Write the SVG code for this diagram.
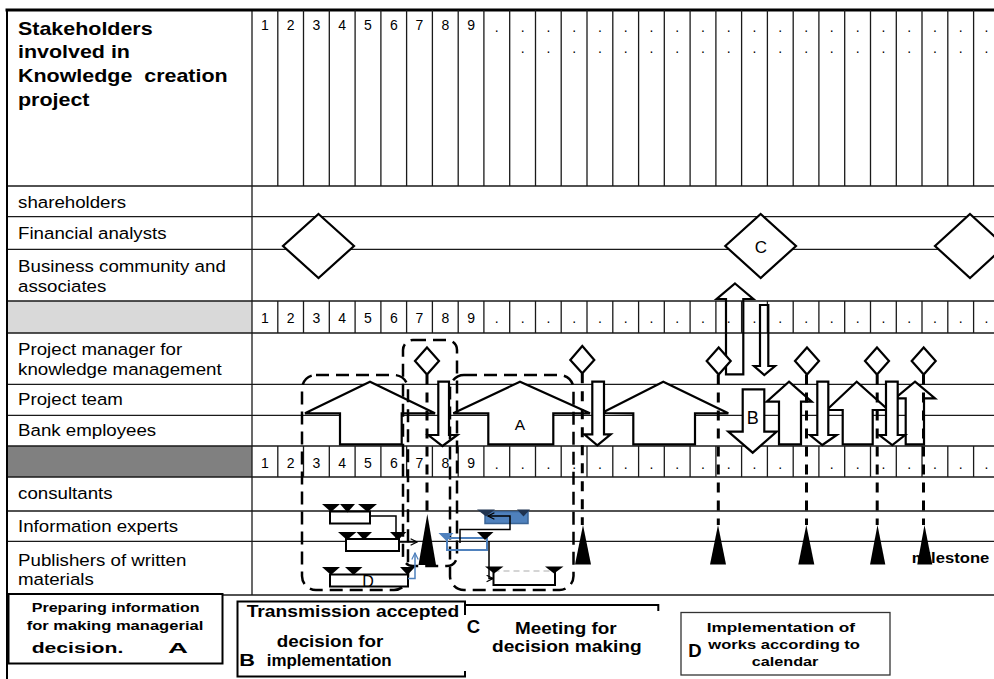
<svg xmlns="http://www.w3.org/2000/svg" xmlns:xlink="http://www.w3.org/1999/xlink" width="994" height="679" viewBox="0 0 994 679">
<defs>
<style>
.grid{stroke:#1a1a1a;stroke-width:1.3;fill:none}
.lbl{font-family:"Liberation Sans",Arial,sans-serif;font-size:17px;fill:#000}
.num{font-family:"Liberation Sans",Arial,sans-serif;font-size:14px;fill:#000;text-anchor:middle}
.ttl{font-family:"Liberation Sans",Arial,sans-serif;font-size:18.5px;font-weight:bold;fill:#000}
.shape{fill:#fff;stroke:#000;stroke-width:2.2;stroke-linejoin:miter}
.hollow{fill:none;stroke:#000;stroke-width:2.2}
.grp{fill:none;stroke:#000;stroke-width:2.5;stroke-dasharray:13 7}
.ms{stroke:#000;stroke-width:3;stroke-dasharray:10 8;fill:none}
.tri{fill:#000}
.bar{fill:#fff;stroke:#000;stroke-width:2}
.leg{fill:#fff;stroke:#000;stroke-width:2}
.lt{font-family:"Liberation Sans",Arial,sans-serif;font-weight:bold;fill:#000}
.in{font-family:"Liberation Sans",Arial,sans-serif;fill:#000;text-anchor:middle}
.con{fill:none;stroke:#000;stroke-width:1.5}
.bcon{fill:none;stroke:#4f81bd;stroke-width:1.5}
</style>
<path id="col" d="M0 10V186M0 301V333M0 446V477"/>
<marker id="chev" viewBox="0 0 10 10" refX="9" refY="5" markerWidth="8" markerHeight="8" markerUnits="userSpaceOnUse" orient="auto">
<path d="M1 1L9 5L1 9" fill="none" stroke="#000" stroke-width="1.5"/>
</marker>
<marker id="bchev" viewBox="0 0 10 10" refX="9" refY="5" markerWidth="8" markerHeight="8" markerUnits="userSpaceOnUse" orient="auto">
<path d="M1 1L9 5L1 9" fill="none" stroke="#4f81bd" stroke-width="1.5"/>
</marker>
</defs>
<rect width="994" height="679" fill="#fff"/>

<g id="table">
<rect x="7" y="301" width="245" height="32" fill="#d9d9d9"/>
<rect x="7" y="446" width="245" height="31" fill="#808080"/>
<path class="grid" d="M7 186H994M7 216.7H994M7 249.3H994M7 301H994M7 333H994M7 384.3H994M7 415.3H994M7 446H994M7 477H994M7 511H994M7 541.3H994M7 595H994M252 10V595"/>
<path d="M7 10V679" stroke="#000" stroke-width="2"/>
<path d="M5.5 10H994" stroke="#000" stroke-width="3"/>
<g class="grid">
<use xlink:href="#col" x="277.8"/><use xlink:href="#col" x="303.5"/><use xlink:href="#col" x="329.3"/><use xlink:href="#col" x="355.1"/>
<use xlink:href="#col" x="380.9"/><use xlink:href="#col" x="406.6"/><use xlink:href="#col" x="432.4"/><use xlink:href="#col" x="458.2"/>
<use xlink:href="#col" x="483.9"/><use xlink:href="#col" x="509.7"/><use xlink:href="#col" x="535.5"/><use xlink:href="#col" x="561.2"/>
<use xlink:href="#col" x="587.0"/><use xlink:href="#col" x="612.8"/><use xlink:href="#col" x="638.6"/><use xlink:href="#col" x="664.3"/>
<use xlink:href="#col" x="690.1"/><use xlink:href="#col" x="715.9"/><use xlink:href="#col" x="741.6"/><use xlink:href="#col" x="767.4"/>
<use xlink:href="#col" x="793.2"/><use xlink:href="#col" x="818.9"/><use xlink:href="#col" x="844.7"/><use xlink:href="#col" x="870.5"/>
<use xlink:href="#col" x="896.3"/><use xlink:href="#col" x="922.0"/><use xlink:href="#col" x="947.8"/><use xlink:href="#col" x="973.6"/>
</g>
<g class="num">
<text x="264.9 290.7 316.4 342.2 368.0 393.8 419.5 445.3 471.1" y="30">123456789</text>
<text x="496.8 522.6 548.4 574.1 599.9 625.7 651.5 677.2 703.0 728.8 754.5 780.3 806.1 831.8 857.6 883.4 909.2 934.9 960.7 986.5" y="31.5">....................</text>
<text x="522.6 548.4 574.1 599.9 625.7 651.5 677.2 703.0 728.8 754.5 780.3 806.1 831.8 857.6 883.4 909.2 934.9 960.7 986.5" y="52.5">...................</text>
<text x="264.9 290.7 316.4 342.2 368.0 393.8 419.5 445.3 471.1" y="322.5">123456789</text>
<text x="496.8 522.6 548.4 574.1 599.9 625.7 651.5 677.2 703.0 728.8 754.5 780.3 806.1 831.8 857.6 883.4 909.2 934.9 960.7 986.5" y="323">....................</text>
<text x="264.9 290.7 316.4 342.2 368.0 393.8 419.5 445.3 471.1" y="468">123456789</text>
<text x="496.8 522.6 548.4 574.1 599.9 625.7 651.5 677.2 703.0 728.8 754.5 780.3 806.1 831.8 857.6 883.4 909.2 934.9 960.7 986.5" y="468.5">....................</text>
</g>
<g transform="scale(1.16 1)" class="ttl">
<text x="15.5" y="35">Stakeholders</text>
<text x="15.5" y="58.5">involved in</text>
<text x="15.5" y="82.5">Knowledge&#160; creation</text>
<text x="15.5" y="106">project</text>
</g>
<g transform="scale(1.1 1)" class="lbl">
<text x="16.4" y="208.3">shareholders</text>
<text x="16.4" y="239.3">Financial analysts</text>
<text x="16.4" y="271.7">Business community and</text>
<text x="16.4" y="291.7">associates</text>
<text x="16.4" y="355">Project manager for</text>
<text x="16.4" y="375">knowledge management</text>
<text x="16.4" y="405.5">Project team</text>
<text x="16.4" y="436.5">Bank employees</text>
<text x="16.4" y="499.5">consultants</text>
<text x="16.4" y="532">Information experts</text>
<text x="16.4" y="566">Publishers of written</text>
<text x="16.4" y="585">materials</text>
</g>
</g>

<g id="decision-diamonds">
<polygon class="shape" points="318.5,214 354,246 318.5,278 283,246"/>
<g id="diamond-C">
<polygon class="shape" points="760.7,214 796,246 760.7,278 725.3,246"/>
<text class="in" x="761" y="252.5" font-size="17">C</text>
</g>
<polygon class="shape" points="970,214 1005,246 970,278 935,246"/>
</g>

<g id="transfer-arrows">
<polygon class="hollow" points="735,283.5 753.3,299 743.3,299 743.3,374.3 726,374.3 726,299 716.7,299"/>
<polygon class="hollow" points="760,305 768.3,305 768.3,366 775,366 764.3,375 754,366 760,366"/>
</g>

<g id="houses">
<polygon class="shape" points="305,413.3 370,381.7 435,413.3 401.7,413.3 401.7,444.3 340,444.3 340,413.3"/>
<g id="house-A">
<polygon class="shape" points="453.3,413.3 520,381.7 590,413.3 553.3,413.3 553.3,444.3 488.3,444.3 488.3,413.3"/>
<text class="in" x="520" y="429.5" font-size="15.5">A</text>
</g>
<polygon class="shape" points="601.7,413 663.3,381.7 728.3,413.3 695,413.3 695,444.3 633.3,444.3 633.3,413.3"/>
<polygon class="shape" points="826.7,410 856.7,381.7 888.3,410 872.7,410 872.7,444.3 842.7,444.3 842.7,410"/>
</g>

<g id="block-arrows">
<polygon class="shape" points="442.5,446 457.3,435 449,435 449,381.7 438.3,381.7 438.3,435 428.3,435"/>
<polygon class="shape" points="597.3,445.3 610.7,434.3 604,434.3 604,381.7 592.3,381.7 592.3,434.3 584.3,434.3"/>
<polygon class="shape" points="789,381.7 811.7,401.7 801,401.7 801,444.3 779,444.3 779,401.7 766.7,401.7"/>
<g id="arrow-B">
<polygon class="shape" points="742.7,389.3 764.3,389.3 764.3,431.7 776.7,431.7 752.7,452.7 728.3,431.7 742.7,431.7"/>
<text class="in" x="752.7" y="423.5" font-size="18">B</text>
</g>
<polygon class="shape" points="817.3,381.7 828.3,381.7 828.3,435 836.7,435 822.3,445 810,435 817.3,435"/>
<polygon class="shape" points="915,381.7 935,398.3 924,398.3 924,444.3 905.7,444.3 905.7,398.3 895,398.3"/>
<polygon class="shape" points="886,381.7 897.7,381.7 897.7,435 905,435 892.3,445 879.3,435 886,435"/>
</g>

<g id="pm-diamonds">
<polygon class="shape" points="427,347.5 439,361 427,374.5 415,361"/>
<polygon class="shape" points="582.3,346 594.3,360 582.3,373.3 570.3,360"/>
<polygon class="shape" points="718.7,347.5 730.7,361 718.7,374.5 706.7,361"/>
<polygon class="shape" points="807,347.5 819,361 807,374.5 795,361"/>
<polygon class="shape" points="877,347.5 889,361 877,374.5 865,361"/>
<polygon class="shape" points="923.7,347.5 935.7,361 923.7,374.5 911.7,361"/>
</g>

<g id="phase-groups">
<rect class="grp" x="302" y="375" width="106" height="215" rx="14"/>
<rect class="grp" x="403" y="340" width="54" height="226" rx="10"/>
<rect class="grp" x="450" y="375" width="123.5" height="215" rx="14"/>
</g>

<g id="tasks">
<g id="bar1">
<rect class="bar" x="330" y="511.5" width="40" height="12"/>
<polygon class="tri" points="322,504 340,504 331,512"/>
<polygon class="tri" points="340,504 355,504 347.5,512.5"/>
<polygon class="tri" points="358,504 377,504 367.5,512"/>
</g>
<g id="bar2">
<rect class="bar" x="346" y="539" width="53" height="12"/>
<polygon class="tri" points="338,532 356.5,532 347,540"/>
<polygon class="tri" points="356.5,532 372,532 364,540"/>
<polygon class="tri" points="390,532 406.5,532 398,540"/>
</g>
<g id="bar3">
<rect class="bar" x="330" y="574.5" width="78" height="12"/>
<text class="in" x="368" y="586.5" font-size="16">D</text>
<polygon class="tri" points="322,567 340,567 331,575"/>
<polygon class="tri" points="345,567 362.5,567 353.5,575"/>
<polygon class="tri" points="400,567 415,567 407.5,575"/>
</g>
<g id="bar-blue1">
<rect x="485" y="511.5" width="43" height="12" fill="#4f81bd" stroke="#3a6496" stroke-width="1.5"/>
<polygon points="477,509.5 495,509.5 486,516.5" fill="#1f3350"/>
<polygon points="517,509.5 530,509.5 523.5,516.5" fill="#1f3350"/>
</g>
<g id="bar-blue2">
<rect x="447" y="538" width="40" height="12" fill="none" stroke="#4f81bd" stroke-width="2"/>
<polygon points="438.5,533 453.5,533 446,540.5" fill="#4f81bd"/>
<polygon points="477,532 493.5,532 485,540" fill="#000"/>
</g>
<g id="bar4">
<path d="M493.5 571V585H555V571" fill="#fff" stroke="#000" stroke-width="2"/>
<path d="M493.5 571H555" stroke="#c8c8c8" stroke-width="1.5" stroke-dasharray="6 4"/>
<polygon class="tri" points="485,566.5 503.5,566.5 494,573.5"/>
<polygon class="tri" points="545,566.5 563.5,566.5 554,573.5"/>
</g>
</g>

<text id="milestone-label" class="lt" x="911.7" y="562.7" font-size="15" textLength="77.6" lengthAdjust="spacingAndGlyphs">milestone</text>

<g id="connectors">
<path class="ms" d="M427 374.5V516M582.3 373.3V525M718.3 374.5V525M806.5 374.5V525M877.2 374.5V525M923.5 374.5V525"/>
<path class="con" d="M370 516H396V540"/>
<path class="con" d="M399 542H417" marker-end="url(#chev)"/>
<path class="bcon" d="M408 578.5H415V553" marker-end="url(#bchev)"/>
<path class="con" d="M460 543V529.5H510V516H488" marker-end="url(#chev)"/>
<path class="con" d="M489 541V578.5H493" marker-end="url(#chev)"/>
</g>

<g id="milestones">
<polygon class="tri" points="427.3,514 436,565 418.5,565"/>
<polygon class="tri" points="583,525 591,564.5 575,564.5"/>
<polygon class="tri" points="718,525 726,564.5 710,564.5"/>
<polygon class="tri" points="806.3,525 814.3,564.5 798.3,564.5"/>
<polygon class="tri" points="877.5,525 885.3,564.5 870,564.5"/>
<polygon class="tri" points="924.5,525 932.3,564.5 917.3,564.5"/>
</g>

<g id="legend-A">
<rect class="leg" x="8.5" y="594" width="214" height="69.5"/>
<text class="lt" x="31.7" y="612.3" font-size="12.5" textLength="168" lengthAdjust="spacingAndGlyphs">Preparing information</text>
<text class="lt" x="26.7" y="630" font-size="12.5" textLength="176.6" lengthAdjust="spacingAndGlyphs">for making managerial</text>
<text class="lt" x="31.7" y="653.3" font-size="14" textLength="91.6" lengthAdjust="spacingAndGlyphs">decision.</text>
<text class="lt" x="168" y="653.3" font-size="14" textLength="20" lengthAdjust="spacingAndGlyphs">A</text>
</g>
<g id="legend-B">
<rect class="leg" x="237.5" y="601.5" width="227.5" height="75"/>
<text class="lt" x="246.7" y="616.7" font-size="16" textLength="212.6" lengthAdjust="spacingAndGlyphs">Transmission accepted</text>
<text class="lt" x="276.7" y="646.5" font-size="17" textLength="106.7" lengthAdjust="spacingAndGlyphs">decision for</text>
<text class="lt" x="266.7" y="666" font-size="17" textLength="125" lengthAdjust="spacingAndGlyphs">implementation</text>
<text class="lt" x="239.3" y="666" font-size="17" textLength="15.7" lengthAdjust="spacingAndGlyphs">B</text>
</g>
<g id="legend-C">
<rect x="463" y="615" width="197" height="56" fill="#fff"/>
<path d="M465 605H658.3V611" fill="none" stroke="#000" stroke-width="2"/>
<text class="lt" x="466.7" y="633" font-size="18.5">C</text>
<text class="lt" x="515" y="633.5" font-size="16" textLength="101.7" lengthAdjust="spacingAndGlyphs">Meeting for</text>
<text class="lt" x="492" y="652" font-size="16" textLength="149.7" lengthAdjust="spacingAndGlyphs">decision making</text>
</g>
<g id="legend-D">
<rect x="681" y="612.5" width="209" height="62.5" fill="#fff" stroke="#333" stroke-width="1.3"/>
<text class="lt" x="706.7" y="631.5" font-size="13" textLength="148.3" lengthAdjust="spacingAndGlyphs">Implementation of</text>
<text class="lt" x="708.3" y="649" font-size="13" textLength="151.7" lengthAdjust="spacingAndGlyphs">works according to</text>
<text class="lt" x="751.7" y="666" font-size="13" textLength="66.7" lengthAdjust="spacingAndGlyphs">calendar</text>
<text class="lt" x="688.3" y="656.7" font-size="18.5">D</text>
</g>
</svg>
